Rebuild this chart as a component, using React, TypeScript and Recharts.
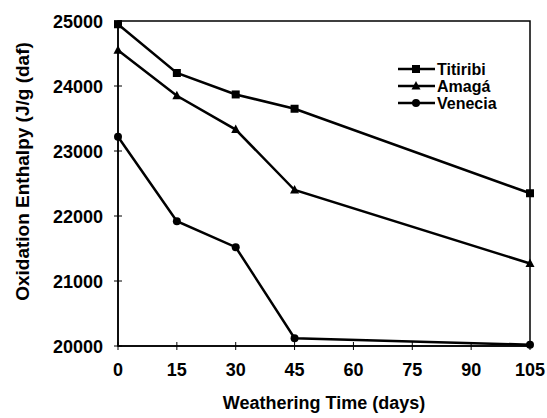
import React from "react";
import { LineChart, Line, XAxis, YAxis, ReferenceArea } from "recharts";

const days = [0, 15, 30, 45, 105];
const titiribi = [24950, 24200, 23870, 23650, 22350];
const amaga = [24550, 23850, 23330, 22400, 21270];
const venecia = [23220, 21920, 21520, 20120, 20020];
const xTicks = [0, 15, 30, 45, 60, 75, 90, 105];
const yTicks = [20000, 21000, 22000, 23000, 24000, 25000];
const seriesNames = ["Titiribi", "Amagá", "Venecia"];

const data = days.map((d, i) => ({
  day: d,
  t: titiribi[i],
  a: amaga[i],
  v: venecia[i],
}));

const FONT = "'Liberation Sans', Arial, sans-serif";

function Marker({ kind, cx, cy }: { kind: string; cx: number; cy: number }) {
  if (kind === "square") return <rect x={cx - 4} y={cy - 4} width={8} height={8} fill="#000" />;
  if (kind === "triangle")
    return <polygon points={`${cx},${cy - 5} ${cx + 4.5},${cy + 3.5} ${cx - 4.5},${cy + 3.5}`} fill="#000" />;
  return <circle cx={cx} cy={cy} r={4} fill="#000" />;
}

const makeDot = (kind: string) => (props: any) => {
  const { cx, cy, index } = props;
  if (cx == null || cy == null) return <g key={index} />;
  return <Marker key={index} kind={kind} cx={cx} cy={cy} />;
};

const YTick = (props: any) => {
  const { x, y, payload } = props;
  const ax = x + 8;
  return (
    <g>
      <line x1={ax - 4} x2={ax + 4} y1={y} y2={y} stroke="#000" strokeWidth={1} />
      <text x={x - 7} y={y} dy={6.5} textAnchor="end" fontFamily={FONT} fontWeight="bold" fontSize={18} fill="#000">
        {payload.value}
      </text>
    </g>
  );
};

const XTick = (props: any) => {
  const { x, y, payload } = props;
  const ay = y - 8;
  return (
    <g>
      <line x1={x} x2={x} y1={ay - 4} y2={ay + 4} stroke="#000" strokeWidth={1} />
      <text x={x} y={y + 22} textAnchor="middle" fontFamily={FONT} fontWeight="bold" fontSize={18} fill="#000">
        {payload.value}
      </text>
    </g>
  );
};

const XLabel = (props: any) => {
  const vb = props.viewBox || {};
  return (
    <text
      x={vb.x + vb.width / 2}
      y={vb.y + 63}
      textAnchor="middle"
      fontFamily={FONT}
      fontWeight="bold"
      fontSize={18}
      fill="#000"
    >
      Weathering Time (days)
    </text>
  );
};

const YLabel = (props: any) => {
  const vb = props.viewBox || {};
  const cx = vb.x + 14;
  const cy = vb.y + vb.height / 2 - 12;
  return (
    <text
      x={cx}
      y={cy}
      transform={`rotate(-90 ${cx} ${cy})`}
      textAnchor="middle"
      dominantBaseline="central"
      fontFamily={FONT}
      fontWeight="bold"
      fontSize={19}
      fill="#000"
    >
      Oxidation Enthalpy (J/g (daf)
    </text>
  );
};

const kinds = ["square", "triangle", "circle"];

const LegendBox = () => (
  <svg width={140} height={60} style={{ position: "absolute", left: 396, top: 61 }}>
    {seriesNames.map((n, i) => {
      const y = 8 + i * 17;
      return (
        <g key={n}>
          <line x1={2} x2={39} y1={y} y2={y} stroke="#000" strokeWidth={2.5} />
          <Marker kind={kinds[i]} cx={20} cy={y} />
          <text x={41} y={y} dy={5.5} fontFamily={FONT} fontWeight="bold" fontSize={16} fill="#000">
            {n}
          </text>
        </g>
      );
    })}
  </svg>
);

export default function App() {
  return (
    <div
      style={{
        background: "#fff",
        width: 547,
        height: 418,
        position: "relative",
        boxSizing: "border-box",
        paddingLeft: 8,
        paddingTop: 8,
      }}
    >
      <style>{`html, body { margin: 0; overflow: hidden; } svg { overflow: visible; }`}</style>
      <LineChart width={539} height={410} data={data} margin={{ top: 13, right: 17, left: 0, bottom: 0 }}>
        <XAxis
          dataKey="day"
          type="number"
          domain={[0, 105]}
          ticks={xTicks}
          tickLine={false}
          tickSize={0}
          tickMargin={8}
          tick={<XTick />}
          axisLine={{ stroke: "#000", strokeWidth: 1.5 }}
          height={72}
          label={<XLabel />}
        />
        <YAxis
          type="number"
          domain={[20000, 25000]}
          ticks={yTicks}
          tickLine={false}
          tickSize={0}
          tickMargin={8}
          tick={<YTick />}
          axisLine={{ stroke: "#000", strokeWidth: 1.5 }}
          width={110}
          label={<YLabel />}
        />
        <ReferenceArea x1={0} x2={105} y1={20000} y2={25000} fill="none" stroke="#000" strokeWidth={1.5} ifOverflow="visible" />
        <Line dataKey="t" name="Titiribi" stroke="#000" strokeWidth={2.5} dot={makeDot("square")} isAnimationActive={false} />
        <Line dataKey="a" name="Amagá" stroke="#000" strokeWidth={2.5} dot={makeDot("triangle")} isAnimationActive={false} />
        <Line dataKey="v" name="Venecia" stroke="#000" strokeWidth={2.5} dot={makeDot("circle")} isAnimationActive={false} />
      </LineChart>
      <LegendBox />
    </div>
  );
}
